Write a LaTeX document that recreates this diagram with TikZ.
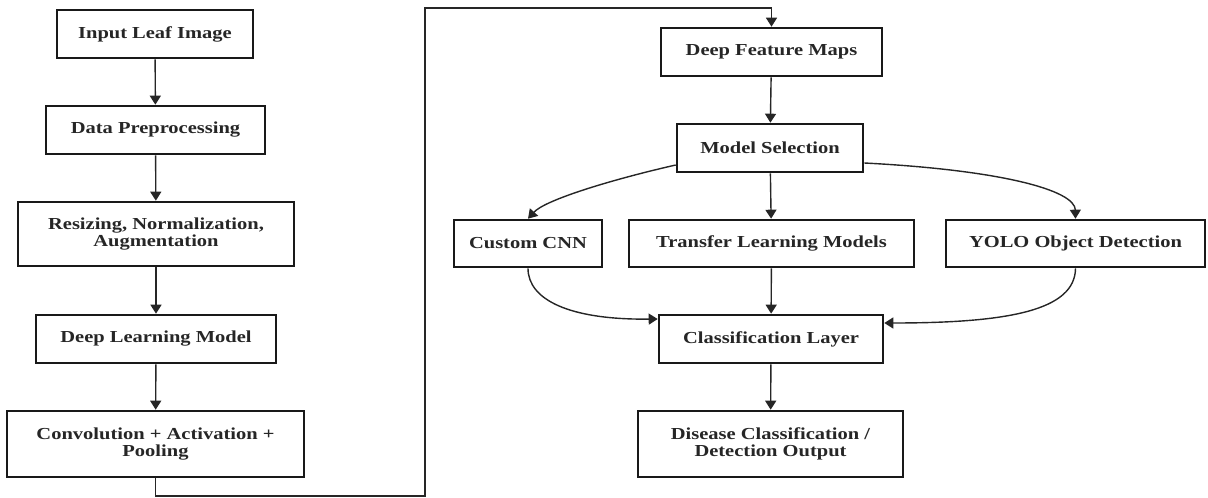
\documentclass[tikz,border=0pt]{standalone}
\usepackage{fontspec}
\setmainfont{Liberation Serif}[FakeStretch=1.22]
\usetikzlibrary{arrows.meta}
\begin{document}
\begin{tikzpicture}[x=1pt,y=1pt,
  box/.style={draw=black!90,line width=2.6pt,rectangle,inner sep=0pt,align=center,
    font=\fontsize{16.8}{17.5}\selectfont\bfseries,text=black!85},
  conn/.style={draw=black!85,line width=1.4pt,-{Triangle[width=11pt,length=9pt]}},
  wire/.style={draw=black!85,line width=1.4pt}]
\useasboundingbox (0,0) rectangle (1208,-498);
% left column
\node[box,minimum width=196pt,minimum height=48pt] (in)   at (155,-34)  {Input Leaf Image};
\node[box,minimum width=219pt,minimum height=48pt] (pre)  at (155.5,-130) {Data Preprocessing};
\node[box,minimum width=276pt,minimum height=64pt] (res)  at (156,-234) {Resizing, Normalization,\\Augmentation};
\node[box,minimum width=240pt,minimum height=48pt] (dlm)  at (156,-339) {Deep Learning Model};
\node[box,minimum width=297pt,minimum height=66pt] (conv) at (155.5,-444) {Convolution + Activation +\\Pooling};
% right column
\node[box,minimum width=221pt,minimum height=48pt] (dfm)  at (771.5,-52) {Deep Feature Maps};
\node[box,minimum width=186pt,minimum height=48pt] (ms)   at (770,-148) {Model Selection};
\node[box,minimum width=148pt,minimum height=47pt] (cnn)  at (528,-243.5) {Custom CNN};
\node[box,minimum width=285pt,minimum height=47pt] (tl)   at (771.5,-243.5) {Transfer Learning Models};
\node[box,minimum width=259pt,minimum height=47pt] (yolo) at (1075.5,-243.5) {YOLO Object Detection};
\node[box,minimum width=224pt,minimum height=48pt] (cl)   at (771,-339) {Classification Layer};
\node[box,minimum width=265pt,minimum height=66pt] (out)  at (770.5,-444) {Disease Classification /\\Detection Output};
% coordinates for the long connector
\coordinate (b1) at (155.5,-496);
\coordinate (b2) at (425,-8);
% connectors
\draw[conn] (in) -- (pre);
\draw[conn] (pre) -- (res);
\draw[conn] (res) -- (dlm);
\draw[conn] (dlm) -- (conv);
\draw[conn] (conv.south) -- (b1) -| (b2) -| (dfm.north);
\draw[conn] (dfm) -- (ms);
\draw[conn] (ms) -- (tl);
\draw[conn] ([yshift=-17pt]ms.west) .. controls (610,-180) and (545,-200) .. (cnn.north);
\draw[conn] ([yshift=-15pt]ms.east) .. controls (1000,-170) and (1075,-190) .. (yolo.north);
\draw[conn] (cnn.south) .. controls (528,-300) and (570,-320) .. ([yshift=20pt]cl.west);
\draw[conn] (yolo.south) .. controls (1075,-310) and (1010,-323) .. ([yshift=16pt]cl.east);
\draw[conn] (tl) -- (cl);
\draw[conn] (cl) -- (out);
\end{tikzpicture}
\end{document}
